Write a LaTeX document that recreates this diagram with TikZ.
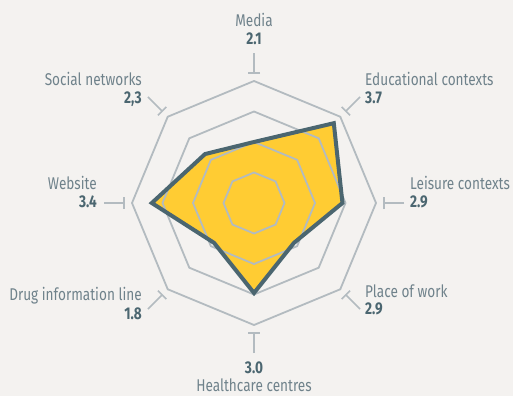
\documentclass[tikz,border=0pt]{standalone}
\usepackage{fontspec}
\setmainfont{Fira Sans}[FakeStretch=0.8]
\usetikzlibrary{arrows.meta,calc}
\definecolor{bgc}{HTML}{F4F2F0}
\definecolor{gridc}{HTML}{B3BBC0}
\definecolor{darkc}{HTML}{4B6670}
\definecolor{yelc}{HTML}{FFCC33}
\definecolor{labc}{HTML}{6F828B}
\tikzset{
  lab/.style={inner sep=0pt, text=labc, font=\fontsize{17}{18}\selectfont},
  val/.style={inner sep=0pt, text=darkc, font=\fontsize{17}{18}\selectfont\bfseries},
  ring/.style={draw=gridc, line width=1.8pt, line join=miter},
  tick/.style={draw=gridc, line width=1.6pt},
}
\begin{document}
\begin{tikzpicture}[x=1pt,y=-1pt]
\useasboundingbox[fill=bgc] (0,0) rectangle (513,396);
\coordinate (c) at (254,203);
\def\u{30.5}
% data polygon (angles negated because y points down)
\path (c) ++(-90:{2.0*\u}) coordinate (p1)
      (c) ++(-45:{3.7*\u}) coordinate (p2)
      (c) ++(0:{2.9*\u}) coordinate (p3)
      (c) ++(45:{1.85*\u}) coordinate (p4)
      (c) ++(90:{2.95*\u}) coordinate (p5)
      (c) ++(135:{1.85*\u}) coordinate (p6)
      (c) ++(180:{3.35*\u}) coordinate (p7)
      (c) ++(-135:{2.27*\u}) coordinate (p8);
\fill[yelc] (p1)--(p2)--(p3)--(p4)--(p5)--(p6)--(p7)--(p8)--cycle;
% rings
\foreach \k in {1,2,3,4}{
  \draw[ring] (c) ++(0:{\k*\u}) \foreach \a in {45,90,...,315}{ -- ($(c)+(\a:{\k*\u})$) } -- cycle;
}
\draw[draw=darkc, line width=4pt, line join=miter, miter limit=4] (p1)--(p2)--(p3)--(p4)--(p5)--(p6)--(p7)--(p8)--cycle;
% ticks
\foreach \a in {0,45,...,315}{
  \draw[tick] ($(c)+(\a:150)$) -- ($(c)+(\a:130)$);
  \draw[tick] ($(c)+(\a:130)+(\a+90:6)$) -- ($(c)+(\a:130)+(\a-90:6)$);
}
% labels
\node[lab, anchor=base] (lmedia) at (254,27) {Media};
\node[val, anchor=base] (vmedia) at (254,45) {2.1};
\node[lab, anchor=base east] (lsoc) at (142,85) {Social networks};
\node[val, anchor=base east] (vsoc) at (142,103) {2,3};
\node[lab, anchor=base west] (ledu) at (365,85) {Educational contexts};
\node[val, anchor=base west] (vedu) at (365,103) {3.7};
\node[lab, anchor=base east] (lweb) at (97,189) {Website};
\node[val, anchor=base east] (vweb) at (97,207) {3.4};
\node[lab, anchor=base west] (llei) at (410,189) {Leisure contexts};
\node[val, anchor=base west] (vlei) at (410,207) {2.9};
\node[lab, anchor=base west] (lwork) at (365,297) {Place of work};
\node[val, anchor=base west] (vwork) at (365,314) {2.9};
\node[lab, anchor=base east] (ldrug) at (142,300) {Drug information line};
\node[val, anchor=base east] (vdrug) at (142,319) {1.8};
\node[val, anchor=base] (vhealth) at (254,373) {3.0};
\node[lab, anchor=base] (lhealth) at (254,391) {Healthcare centres};
\end{tikzpicture}
\end{document}
